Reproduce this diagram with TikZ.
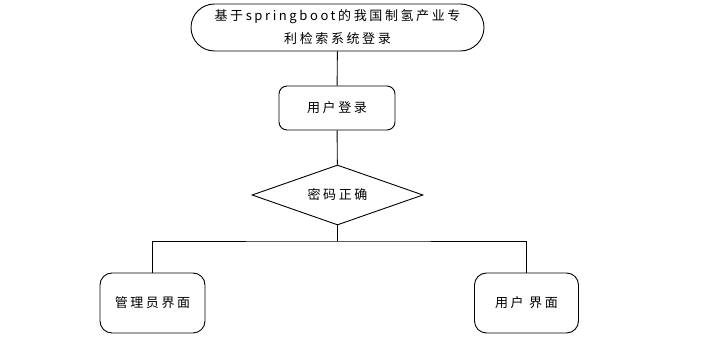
\documentclass[tikz,border=0pt]{standalone}
\usepackage{fontspec}
\setmainfont{Noto Sans CJK SC}[LetterSpace=20]
\usetikzlibrary{shapes.geometric}

\begin{document}
\begin{tikzpicture}[x=1pt, y=1pt, line width=0.9pt,
    box/.style={draw, rectangle, inner sep=0pt, font=\fontsize{13}{23}\selectfont, align=center}]
    \useasboundingbox (0,0) rectangle (705,345);
    \coordinate (T) at (337.5,317.5);
    \coordinate (L) at (337,237);
    \coordinate (D) at (337.5,150);
    \coordinate (S) at (337.5,104);
    \coordinate (A) at (152.5,42);
    \coordinate (U) at (526.5,42);

    % 开始与登录
    \node[box, rounded corners=23.5pt, minimum width=293pt, minimum height=47pt] (start) at (T)
        {基于springboot的我国制氢产业专\\利检索系统登录};
    \node[box, rounded corners=8pt, minimum width=116pt, minimum height=44pt] (login) at (L) {用户登录};

    % 判断
    \node[box, diamond, aspect=2.85, minimum width=171pt, minimum height=60pt] (check) at (D) {密码正确};

    % 两个界面
    \node[box, rounded corners=12pt, minimum width=105pt, minimum height=60pt] (admin) at (A) {管理员界面};
    \node[box, rounded corners=12pt, minimum width=104pt, minimum height=60pt] (user) at (U) {用户 界面};

    \draw (start) -- (login);
    \draw (login) -- (check);
    \draw (check.south) -- (S);
    \draw (admin.north) |- (S) -| (user.north);
\end{tikzpicture}
\end{document}
